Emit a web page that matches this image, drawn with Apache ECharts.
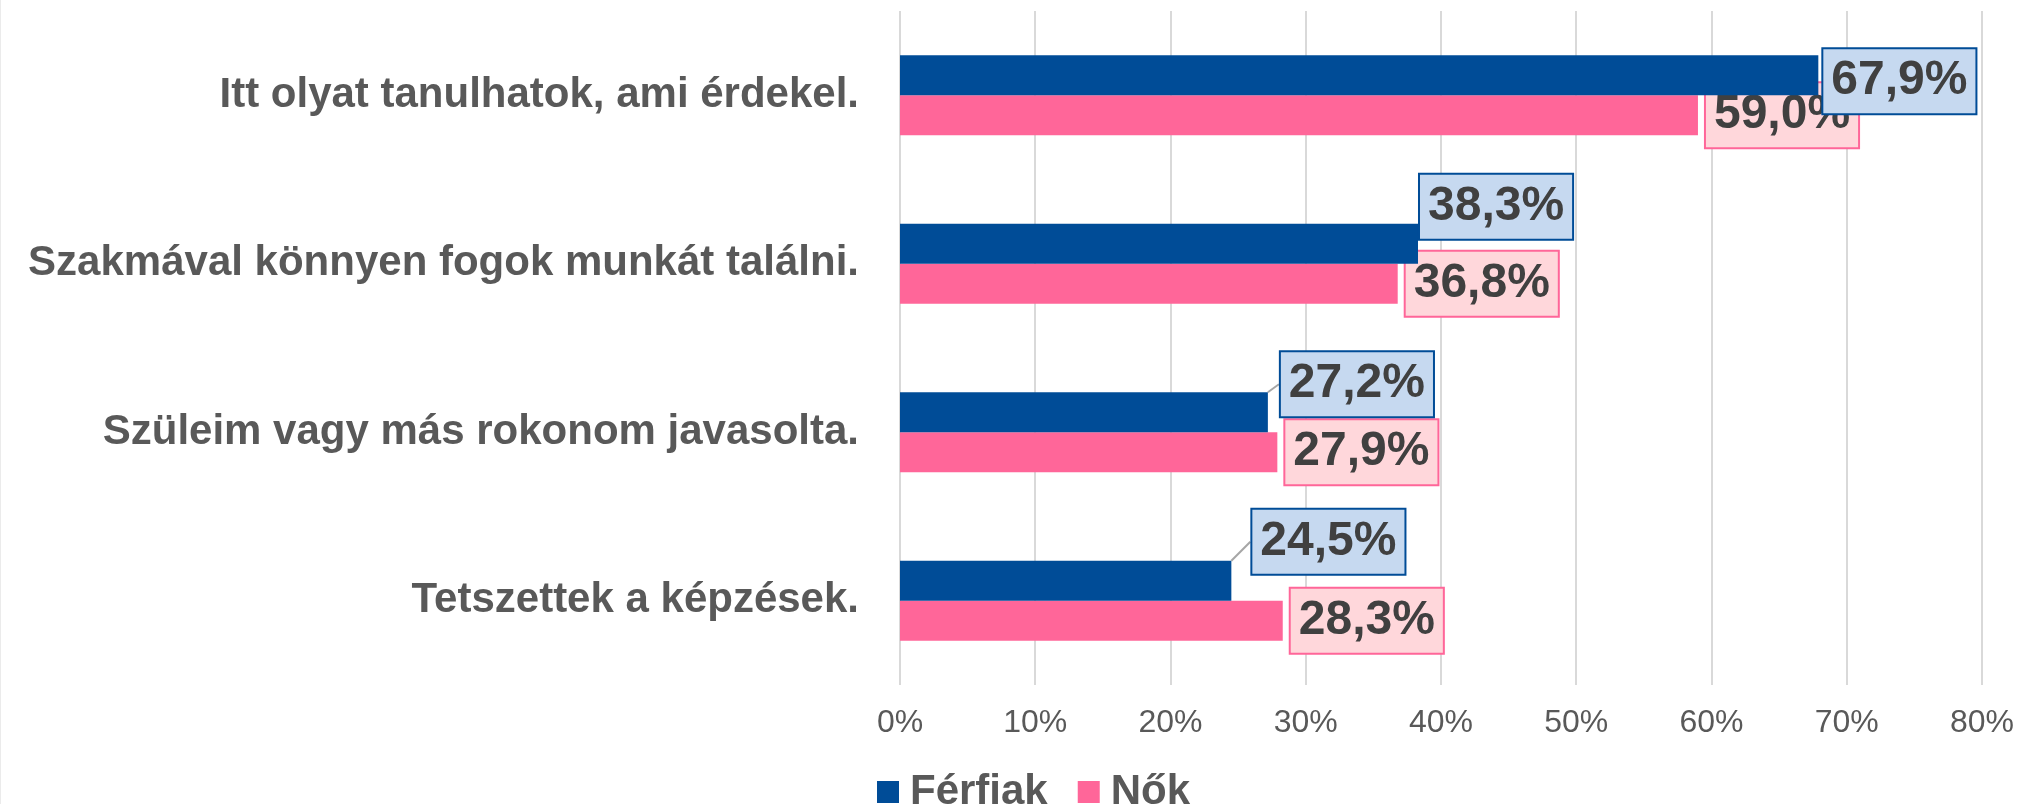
<!DOCTYPE html>
<html>
<head>
<meta charset="utf-8">
<script src="https://cdn.jsdelivr.net/npm/echarts@6/dist/echarts.min.js"></script>
<style>
  html, body { margin: 0; padding: 0; background: #fff; }
  #chart { width: 2017px; height: 804px; }
</style>
</head>
<body>
<div id="chart"></div>
<script>
// adatok
var categories = [
  'Itt olyat tanulhatok, ami érdekel.',
  'Szakmával könnyen fogok munkát találni.',
  'Szüleim vagy más rokonom javasolta.',
  'Tetszettek a képzések.'
];
var ferfiak = [67.9, 38.3, 27.2, 24.5];
var nok = [59.0, 36.8, 27.9, 28.3];
var xTicks = [0, 10, 20, 30, 40, 50, 60, 70, 80];

// címkék eltolása (Excel-szerű kézi elhelyezés)
var ferfiakNudge = [[-3, 6], [-6, -37], [5, -28], [13, -39]];
var ferfiakLeader = [false, false, true, true];

var font = '"Liberation Sans", Arial, sans-serif';

function pct(p) {
  return p.value.toFixed(1).replace('.', ',') + '%';
}

function labelStyle(bg, border) {
  return {
    show: true,
    position: 'right',
    distance: 8,
    formatter: pct,
    fontFamily: font,
    fontSize: 48,
    fontWeight: 'bold',
    color: '#404040',
    backgroundColor: bg,
    borderColor: border,
    borderWidth: 2,
    padding: [7, 8, 7, 8],
    lineHeight: 50
  };
}

var chart = echarts.init(document.getElementById('chart'));

var option = {
  animation: false,
  backgroundColor: '#fff',
  graphic: [{
    type: 'rect',
    shape: { x: 0, y: 0, width: 1, height: 804 },
    style: { fill: '#ebebeb' }
  }],
  grid: { left: 900, right: 34, top: 11, bottom: 119 },
  legend: {
    left: 872,
    top: 766,
    icon: 'rect',
    itemWidth: 22,
    itemHeight: 22,
    itemGap: 30,
    textStyle: {
      fontFamily: font,
      fontSize: 42,
      fontWeight: 'bold',
      color: '#595959',
      padding: [0, 0, 0, 6]
    },
    data: ['Férfiak', 'Nők']
  },
  xAxis: {
    type: 'value',
    min: xTicks[0],
    max: xTicks[xTicks.length - 1],
    interval: 10,
    axisLine: { show: false },
    axisTick: { show: false },
    splitLine: { show: true, lineStyle: { color: '#d9d9d9', width: 2 } },
    axisLabel: {
      formatter: '{value}%',
      fontFamily: font,
      fontSize: 32,
      color: '#595959',
      margin: 22
    }
  },
  yAxis: {
    type: 'category',
    inverse: true,
    data: categories,
    axisLine: { show: false },
    axisTick: { show: false },
    axisLabel: {
      fontFamily: font,
      fontSize: 42,
      fontWeight: 'bold',
      color: '#595959',
      margin: 41
    }
  },
  series: [
    {
      name: 'Férfiak',
      type: 'bar',
      z: 4,
      barWidth: 40,
      barGap: '0%',
      itemStyle: { color: '#004c97' },
      label: labelStyle('#c6d9f0', '#004c97'),
      labelLine: { show: false, lineStyle: { color: '#a6a6a6', width: 2 } },
      labelLayout: function (params) {
        var n = ferfiakNudge[params.dataIndex];
        var res = { dx: n[0], dy: n[1] };
        if (ferfiakLeader[params.dataIndex]) {
          var r = params.rect;
          var lr = params.labelRect;
          var lx = lr.x + n[0];
          var ly = lr.y + n[1] + lr.height / 2;
          res.labelLinePoints = [
            [r.x + r.width, r.y + r.height / 2],
            [lx - 12, ly],
            [lx, ly]
          ];
        }
        return res;
      },
      data: ferfiak.map(function (v, i) {
        return { value: v, labelLine: { show: ferfiakLeader[i] } };
      })
    },
    {
      name: 'Nők',
      type: 'bar',
      z: 2,
      barWidth: 40,
      barGap: '0%',
      itemStyle: { color: '#ff6699' },
      label: labelStyle('#ffd7db', '#ff6699'),
      data: nok
    }
  ]
};

chart.setOption(option);
</script>
</body>
</html>
